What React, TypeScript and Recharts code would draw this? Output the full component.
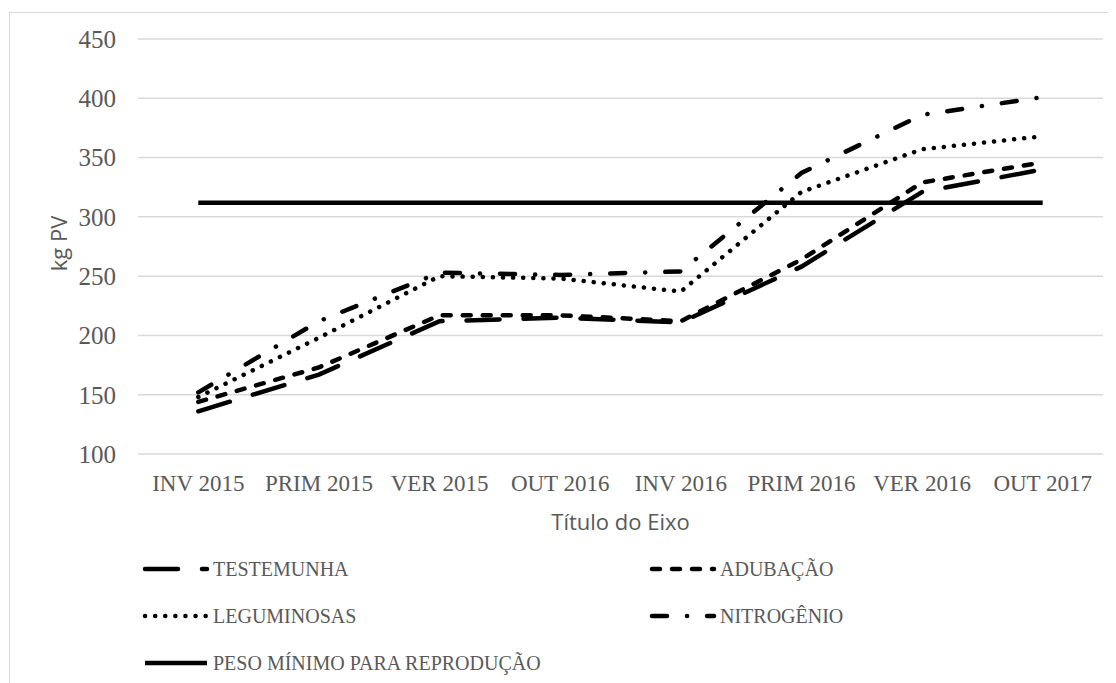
import React from 'react';
import { LineChart, Line, XAxis, YAxis, CartesianGrid } from 'recharts';

const categories = ['INV 2015', 'PRIM 2015', 'VER 2015', 'OUT 2016', 'INV 2016', 'PRIM 2016', 'VER 2016', 'OUT 2017'];
const testemunha = [136, 167, 212, 215, 211, 258, 321, 340];
const adubacao = [144, 173, 217, 217, 212, 264, 329, 346];
const leguminosas = [148, 198, 250, 248, 237, 321, 357, 368];
const nitrogenio = [152, 212, 253, 251, 254, 337, 386, 401];
const pesoMinimo = [312, 312, 312, 312, 312, 312, 312, 312];
const yTicks = [100, 150, 200, 250, 300, 350, 400, 450];

const seriesNames = ['TESTEMUNHA', 'ADUBAÇÃO', 'LEGUMINOSAS', 'NITROGÊNIO', 'PESO MÍNIMO PARA REPRODUÇÃO'];
const seriesKeys = ['testemunha', 'adubacao', 'leguminosas', 'nitrogenio', 'peso'];
const seriesValues = [testemunha, adubacao, leguminosas, nitrogenio, pesoMinimo];
const seriesDash = ['33 24', '8 12', '0.1 10', '15 20 0.1 20', undefined];

const data = categories.map((cat, i) => {
  const row: Record<string, string | number> = { cat };
  seriesKeys.forEach((k, s) => {
    row[k] = seriesValues[s][i];
  });
  return row;
});

const W = 1108;
const H = 675;
const GRAY = '#595959';
const SERIF = '"Liberation Serif", "Times New Roman", serif';
const SANS = '"Open Sans", "Noto Sans", sans-serif';
const SW = 4.5;

const legendCols = [135, 642];
const legendRows = [561, 608, 655];
const SYMBOL_LEN = 64;

const YLabel = (props: any) => {
  const vb = props.viewBox || { x: 0, y: 0, width: 0, height: 0 };
  const cx = vb.x + 50;
  const cy = vb.y + vb.height / 2 - 3;
  return (
    <text x={cx} y={cy} transform={`rotate(-90 ${cx} ${cy})`} textAnchor="middle" dominantBaseline="central"
      fontFamily={SANS} fontSize={22} fill={GRAY}>kg PV</text>
  );
};

const XLabel = (props: any) => {
  const vb = props.viewBox || { x: 0, y: 0, width: 0, height: 0 };
  return (
    <text x={vb.x + vb.width / 2} y={vb.y + 67} textAnchor="middle" dominantBaseline="central"
      fontFamily={SANS} fontSize={22} fill={GRAY}>Título do Eixo</text>
  );
};

export default function App() {
  return (
    <div style={{ position: 'relative', width: W, height: H, overflow: 'hidden', background: '#fff' }}>
      <div style={{ position: 'absolute', left: 1, top: 4, width: W, height: H, borderLeft: '1.5px solid #d9d9d9', borderTop: '1.5px solid #d9d9d9', boxSizing: 'border-box' }} />
      <div style={{ position: 'absolute', left: 0, top: 0 }}>
        <LineChart width={W} height={H} data={data} margin={{ top: 31, right: 13, left: 0, bottom: 129 }}>
          <CartesianGrid vertical={false} stroke="#d9d9d9" strokeWidth={1.5} />
          <XAxis dataKey="cat" height={100} axisLine={false} tickLine={false} tickSize={0} tickMargin={21}
            padding={{ left: 60.3, right: 60.3 }} interval={0}
            tick={{ fill: GRAY, fontSize: 23, fontFamily: SERIF }} label={XLabel} />
          <YAxis domain={[100, 450]} ticks={yTicks} width={130} axisLine={false} tickLine={false} tickSize={0} tickMargin={22}
            tick={{ fill: GRAY, fontSize: 25, fontFamily: SERIF }} label={YLabel} />
          {seriesKeys.map((k, s) => (
            <Line key={k} type="linear" dataKey={k} name={seriesNames[s]} stroke="#000" strokeWidth={SW}
              strokeDasharray={seriesDash[s]} strokeLinecap={s === 4 ? 'butt' : 'round'} dot={false} activeDot={false}
              isAnimationActive={false} />
          ))}
        </LineChart>
      </div>
      <svg width={W} height={H} style={{ position: 'absolute', left: 0, top: 0, pointerEvents: 'none' }}>
        {seriesNames.map((n, s) => {
          const x = legendCols[s % 2];
          const y = legendRows[Math.floor(s / 2)];
          return (
            <g key={n}>
              <line x1={x + 2} x2={x + SYMBOL_LEN} y1={y} y2={y} stroke="#000" strokeWidth={SW}
                strokeDasharray={seriesDash[s]} strokeLinecap={s === 4 ? 'butt' : 'round'} />
              <text x={x + SYMBOL_LEN + 6} y={y} dominantBaseline="central" fontFamily={SERIF} fontSize={20} fill={GRAY}>{n}</text>
            </g>
          );
        })}
      </svg>
    </div>
  );
}
